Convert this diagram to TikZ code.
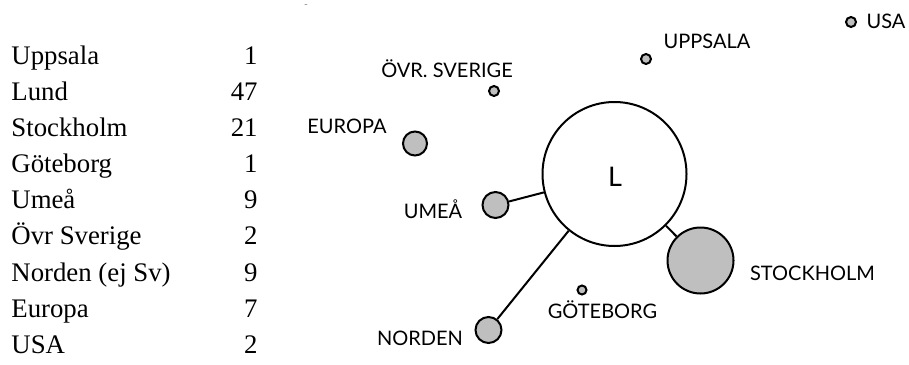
\documentclass[tikz,border=0pt]{standalone}
\usepackage{fontspec}
\setmainfont{Liberation Serif}
\newfontfamily\labelfont{Lato}
\begin{document}
\begin{tikzpicture}[x=0.5pt,y=-0.5pt,
    city/.style={circle,draw,line width=1pt,fill=black!25,inner sep=0pt},
    lab/.style={anchor=base,font=\labelfont\fontsize{10}{12}\selectfont},
    row/.style={anchor=base west,inner sep=0pt,font=\fontsize{13.4}{15}\selectfont},
    num/.style={anchor=base east,inner sep=0pt,font=\fontsize{13.4}{15}\selectfont}]
    \useasboundingbox (0,0) rectangle (909,364);

    \node[row] (t1) at (11,64) {Uppsala};        \node[num] (n1) at (258,64) {1};
    \node[row] (t2) at (11,100) {Lund};          \node[num] (n2) at (258,100) {47};
    \node[row] (t3) at (11,136) {Stockholm};     \node[num] (n3) at (258,136) {21};
    \node[row] (t4) at (11,172) {Göteborg};      \node[num] (n4) at (258,172) {1};
    \node[row] (t5) at (11,208) {Umeå};          \node[num] (n5) at (258,208) {9};
    \node[row] (t6) at (11,244) {Övr Sverige};   \node[num] (n6) at (258,244) {2};
    \node[row] (t7) at (11,281) {Norden (ej Sv)}; \node[num] (n7) at (258,281) {9};
    \node[row] (t8) at (11,317) {Europa};        \node[num] (n8) at (258,317) {7};
    \node[row] (t9) at (11,353) {USA};           \node[num] (n9) at (258,353) {2};

    \node[font=\tiny,text=black!50] (dash) at (306,6) {-};

    \node[circle,draw,line width=1pt,fill=white,minimum size=72pt,inner sep=0pt] (L) at (614.5,174) {};
    \node[anchor=base,font=\labelfont\fontsize{13.5}{15}\selectfont] (Ltxt) at (615,186) {L};

    \node[city,minimum size=33pt] (stockholm) at (700.5,260.5) {};
    \node[city,minimum size=13pt] (umea) at (495.5,205) {};
    \node[city,minimum size=13pt] (norden) at (488.5,330) {};
    \node[city,minimum size=12pt] (europa) at (415,143.5) {};
    \node[city,minimum size=4.5pt] (goteborg) at (582,290) {};
    \node[city,minimum size=5pt] (ovr) at (494,91) {};
    \node[city,minimum size=5pt] (uppsala) at (646,59) {};
    \node[city,minimum size=5pt] (usa) at (851,22) {};

    \node[lab] (ovrlab) at (447,77) {ÖVR. SVERIGE};
    \node[lab] (europalab) at (347,133) {EUROPA};
    \node[lab] (uppsalalab) at (707,48) {UPPSALA};
    \node[lab] (usalab) at (886,28) {USA};
    \node[lab] (umealab) at (433,218) {UMEÅ};
    \node[lab] (nordenlab) at (420,345) {NORDEN};
    \node[lab] (goteborglab) at (602.5,318) {GÖTEBORG};
    \node[lab] (stockholmlab) at (812.5,280) {STOCKHOLM};

    \draw[line width=1pt] (umea) -- (L);
    \draw[line width=1pt] (norden) -- (L);
    \draw[line width=1pt] (stockholm) -- (L);
\end{tikzpicture}
\end{document}
